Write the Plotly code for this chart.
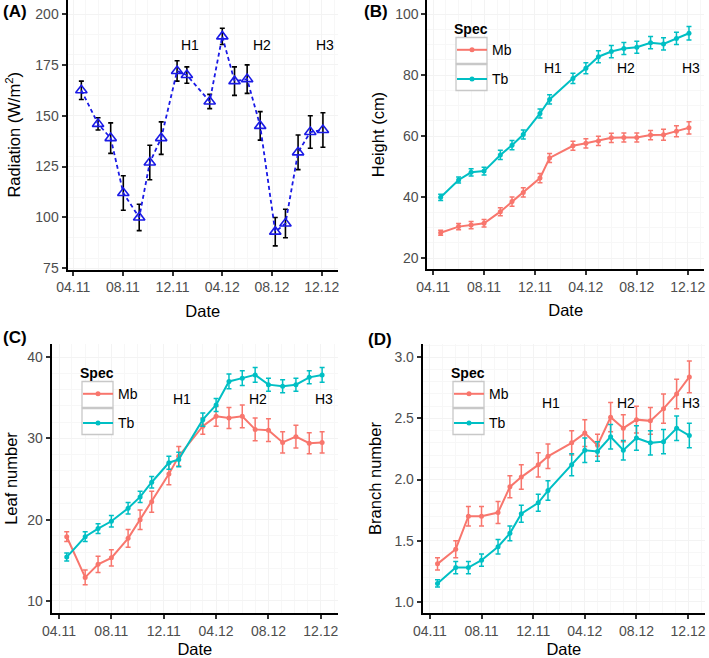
import plotly.graph_objects as go

# ---------------- data ----------------
dates = ["2011-04-19", "2011-06-01", "2011-07-01", "2011-08-01", "2011-09-09",
         "2011-10-07", "2011-11-03", "2011-12-13", "2012-01-05", "2012-03-01",
         "2012-04-01", "2012-05-01", "2012-06-01", "2012-07-01", "2012-08-01",
         "2012-09-03", "2012-10-04", "2012-11-04", "2012-12-04"]
rad_dates = ["2011-04-21", "2011-06-01", "2011-07-02", "2011-08-02", "2011-09-10",
             "2011-10-06", "2011-11-03", "2011-12-12", "2012-01-05", "2012-03-01",
             "2012-04-01", "2012-05-01", "2012-06-01", "2012-07-03", "2012-08-09",
             "2012-09-03", "2012-10-04", "2012-11-03", "2012-12-04"]

radiation = [162.5, 146, 139, 112, 100, 127, 139, 172, 170, 157,
             189, 167, 168, 145, 93, 97, 132, 142, 143]
radiation_err = [4.5, 3, 7.5, 8.5, 6.5, 8.5, 8, 5, 4, 3.5,
                 4, 7, 7, 7, 7, 7, 8.5, 8, 8.5]

height_mb = [28.3, 30.3, 30.8, 31.4, 35.2, 38.5, 41.5, 46.2, 52.8, 56.8,
             57.6, 58.4, 59.4, 59.5, 59.5, 60.3, 60.4, 61.6, 62.7]
height_mb_err = [0.8, 1.0, 1.2, 1.2, 1.3, 1.5, 1.5, 1.5, 1.5, 1.5,
                 1.5, 1.5, 1.5, 1.5, 1.5, 1.5, 1.8, 1.8, 2.0]
height_tb = [39.9, 45.6, 48.1, 48.5, 53.8, 57.0, 60.5, 67.4, 72.0, 78.9,
             82.2, 86.0, 87.7, 88.7, 89.1, 90.6, 90.2, 92.0, 93.7]
height_tb_err = [1.0, 1.0, 1.2, 1.3, 1.5, 1.5, 1.5, 1.5, 1.5, 1.7,
                 1.8, 2.0, 2.0, 2.0, 2.0, 2.0, 2.0, 2.0, 2.2]

leaf_mb = [17.9, 12.9, 14.5, 15.3, 17.7, 20.0, 22.2, 25.6, 27.8, 31.5,
           32.7, 32.5, 32.7, 31.1, 31.0, 29.5, 30.2, 29.4, 29.5]
leaf_mb_err = [0.6, 0.9, 1.0, 1.0, 1.1, 1.2, 1.3, 1.3, 1.2, 1.0,
               1.2, 1.3, 1.4, 1.4, 1.4, 1.3, 1.4, 1.3, 1.3]
leaf_tb = [15.4, 17.9, 18.9, 19.8, 21.4, 22.8, 24.6, 27.0, 27.4, 32.3,
           34.1, 37.0, 37.4, 37.8, 36.6, 36.4, 36.6, 37.5, 37.8]
leaf_tb_err = [0.5, 0.6, 0.6, 0.7, 0.7, 0.7, 0.7, 0.8, 0.9, 0.8,
               0.8, 0.9, 0.9, 0.9, 0.8, 0.8, 0.8, 0.8, 0.9]

branch_mb = [1.31, 1.43, 1.70, 1.70, 1.73, 1.94, 2.02, 2.12, 2.19, 2.30,
             2.38, 2.28, 2.51, 2.42, 2.49, 2.48, 2.58, 2.70, 2.84]
branch_mb_err = [0.05, 0.07, 0.08, 0.08, 0.09, 0.09, 0.1, 0.1, 0.1, 0.1,
                 0.11, 0.09, 0.12, 0.11, 0.11, 0.11, 0.12, 0.12, 0.13]
branch_tb = [1.15, 1.28, 1.28, 1.34, 1.45, 1.56, 1.72, 1.81, 1.91, 2.12,
             2.24, 2.23, 2.35, 2.24, 2.34, 2.30, 2.31, 2.42, 2.36]
branch_tb_err = [0.03, 0.05, 0.05, 0.05, 0.06, 0.06, 0.07, 0.07, 0.08, 0.09,
                 0.1, 0.08, 0.1, 0.08, 0.1, 0.1, 0.1, 0.1, 0.1]

harvest_labels = ["H1", "H2", "H3"]
harvest_dates = ["2012-01-13", "2012-07-07", "2012-12-09"]
harvest_y = {"A": 185, "B": 82.2, "C": 34.8, "D": 2.63}

tick_vals = ["2011-04-01", "2011-08-01", "2011-12-01", "2012-04-01", "2012-08-01", "2012-12-01"]
tick_text = ["04.11", "08.11", "12.11", "04.12", "08.12", "12.12"]

MB_COL = "#F8766D"
TB_COL = "#00BFC4"
FONT = "Liberation Sans, Arial, sans-serif"

W, H = 709, 658

def px_x(a, b):
    return [a / W, b / W]

def px_y(top, bottom):
    return [1 - bottom / H, 1 - top / H]

fig = go.Figure()

# Panel A
fig.add_trace(go.Scatter(
    x=rad_dates, y=radiation, mode="lines+markers",
    line=dict(color="#1a1ae6", width=1.8, dash="4px,3px"),
    marker=dict(symbol="triangle-up-open", size=10, color="#1a1ae6", line=dict(width=1.6)),
    error_y=dict(type="data", array=radiation_err, color="black", thickness=1.6, width=2.5),
    xaxis="x", yaxis="y", showlegend=False))

def add_species(xa, ya, mb, mbe, tb, tbe, legend, show):
    for name, vals, errs, col in (("Mb", mb, mbe, MB_COL), ("Tb", tb, tbe, TB_COL)):
        fig.add_trace(go.Scatter(
            x=dates, y=vals, mode="lines+markers", name=name,
            line=dict(color=col, width=2),
            marker=dict(symbol="circle", size=5, color=col),
            error_y=dict(type="data", array=errs, color=col, thickness=1.5, width=2.5),
            xaxis=xa, yaxis=ya, legend=legend, legendgroup=legend + name,
            showlegend=show))

add_species("x2", "y2", height_mb, height_mb_err, height_tb, height_tb_err, "legend", True)
add_species("x3", "y3", leaf_mb, leaf_mb_err, leaf_tb, leaf_tb_err, "legend2", True)
add_species("x4", "y4", branch_mb, branch_mb_err, branch_tb, branch_tb_err, "legend3", True)

axis_common = dict(
    showline=True, linecolor="black", linewidth=2, automargin=False,
    ticks="outside", ticklen=4, tickwidth=1.5, tickcolor="#333333",
    tickfont=dict(family=FONT, size=14, color="#4d4d4d"),
    showgrid=True, gridcolor="#f3f3f3", gridwidth=1,
    minor=dict(showgrid=True, gridcolor="#f7f7f7", gridwidth=1),
    zeroline=False, mirror=False,
)
title_font = dict(family=FONT, size=16.5, color="black")

panels = {
    "A": dict(x=px_x(67.5, 338), y=px_y(0, 269.5), xr=["2011-03-18", "2013-01-10"], yr=[74.4, 206.9],
              ytv=[75, 100, 125, 150, 175, 200], ytitle="Radiation (W/m<sup>2</sup>)", ys=11),
    "B": dict(x=px_x(427.3, 704), y=px_y(0, 269), xr=["2011-03-18", "2013-01-09"], yr=[16.4, 104.6],
              ytv=[20, 40, 60, 80, 100], ytitle="Height (cm)", ys=6),
    "C": dict(x=px_x(51.7, 338), y=px_y(344, 613), xr=["2011-03-15", "2013-01-10"], yr=[8.52, 41.6],
              ytv=[10, 20, 30, 40], ytitle="Leaf number", ys=6),
    "D": dict(x=px_x(422.7, 705), y=px_y(344, 613), xr=["2011-03-15", "2013-01-10"], yr=[0.908, 3.109],
              ytv=[1.0, 1.5, 2.0, 2.5, 3.0], ytitle="Branch number", ys=9),
}

layout = dict(
    width=W, height=H, margin=dict(l=0, r=0, t=0, b=0, autoexpand=False),
    paper_bgcolor="white", plot_bgcolor="white",
    font=dict(family=FONT, size=14, color="black"),
    annotations=[], shapes=[],
)

for i, (key, p) in enumerate(panels.items(), start=1):
    sx = "" if i == 1 else str(i)
    xa = dict(axis_common, domain=p["x"], range=p["xr"], type="date",
              tickvals=tick_vals, ticktext=tick_text, anchor="y" + sx,
              title=dict(text="Date", font=title_font, standoff=11))
    ya = dict(axis_common, domain=p["y"], range=p["yr"], anchor="x" + sx,
              tickvals=p["ytv"], ticktext=[("%.1f" % v) if key == "D" else str(v) for v in p["ytv"]],
              title=dict(text=p["ytitle"], font=title_font, standoff=p["ys"]))
    layout["xaxis" + sx] = xa
    layout["yaxis" + sx] = ya
    for lab, hx in zip(harvest_labels, harvest_dates):
        layout["annotations"].append(dict(
            text=lab, x=hx, y=harvest_y[key], xref="x" + sx, yref="y" + sx,
            showarrow=False, font=dict(family=FONT, size=14, color="black")))

# panel letters
for lab, x, y in (("(A)", 1, 12), ("(B)", 362, 12), ("(C)", 1, 337), ("(D)", 366, 339)):
    layout["annotations"].append(dict(
        text="<b>%s</b>" % lab, x=x / W, y=1 - y / H, xref="paper", yref="paper",
        xanchor="left", yanchor="middle", showarrow=False,
        font=dict(family=FONT, size=17, color="black")))

# legend key frames (ggplot-style grey key boxes)
for lx, top in ((456, 37.5), (82, 381.5), (453, 381.5)):
    for k in range(2):
        t = top + k * 27
        layout["shapes"].append(dict(
            type="rect", xref="paper", yref="paper",
            x0=lx / W, x1=(lx + 31) / W, y0=1 - (t + 26) / H, y1=1 - t / H,
            line=dict(color="#c8c8c8", width=1.3), fillcolor="white", layer="above"))

leg_common = dict(
    bgcolor="rgba(0,0,0,0)", borderwidth=0, tracegroupgap=8, itemwidth=30,
    font=dict(family=FONT, size=14, color="black"),
    title=dict(text="<b>Spec</b>", font=dict(family=FONT, size=14, color="black")),
    xanchor="left", yanchor="top",
)
layout["legend"] = dict(leg_common, x=452 / W, y=1 - 16 / H)
layout["legend2"] = dict(leg_common, x=78 / W, y=1 - 360 / H)
layout["legend3"] = dict(leg_common, x=449 / W, y=1 - 360 / H)

fig.update_layout(**layout)
fig.write_html("out.html", config={"displayModeBar": False},
               post_script="document.body.style.margin='0';document.body.style.overflow='hidden';")
